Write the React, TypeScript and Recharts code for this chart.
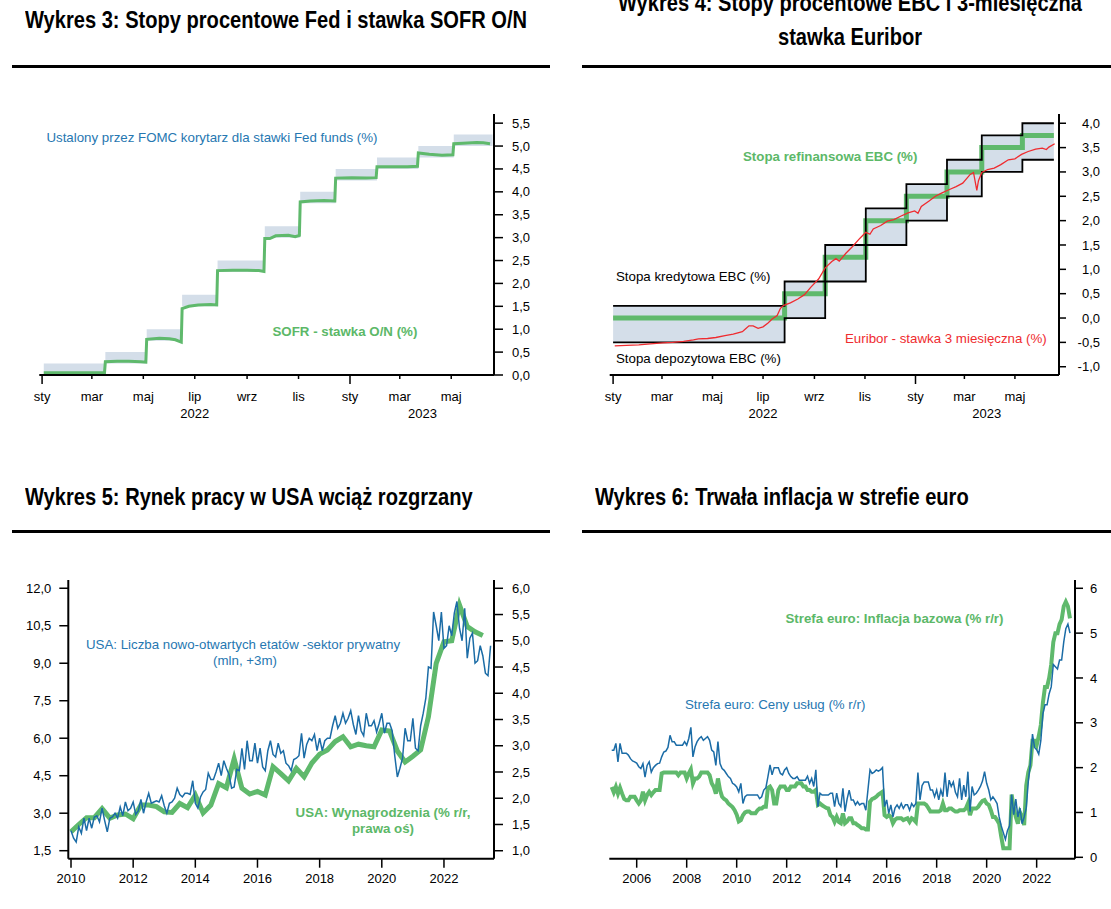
import React from "react";
import { ComposedChart, Line, Area, XAxis, YAxis } from "recharts";

const FONT = '"Liberation Sans", Arial, Helvetica, sans-serif';
const TITLE_FONT = '"Liberation Sans", Arial, Helvetica, sans-serif';

const GREEN = "#5fb96c";
const GREEN_TEXT = "#5cb868";
const BLUE = "#1b6ca6";
const BLUE_TEXT = "#2677b1";
const RED = "#ef2b2f";
const BAND = "#d4dee9";

// month axis shared by Wykres 3 and Wykres 4
const monthTickDates = ["2022-01-01", "2022-03-01", "2022-05-01", "2022-07-01", "2022-09-01", "2022-11-01", "2023-01-01", "2023-03-01", "2023-05-01"];
const monthTickLabels = ["sty", "mar", "maj", "lip", "wrz", "lis", "sty", "mar", "maj"];
const yearLabelDates = ["2022-07-01", "2023-03-28"];
const yearLabels = ["2022", "2023"];

// Wykres 3: Fed corridor and SOFR
const fedDates = ["2022-01-03", "2022-03-17", "2022-05-05", "2022-06-16", "2022-07-28", "2022-09-22", "2022-11-03", "2022-12-15", "2023-02-02", "2023-03-23", "2023-05-04", "2023-06-19"];
const fedLower = [0, 0.25, 0.75, 1.5, 2.25, 3.0, 3.75, 4.25, 4.5, 4.75, 5.0, 5.0];
const fedUpper = [0.25, 0.5, 1.0, 1.75, 2.5, 3.25, 4.0, 4.5, 4.75, 5.0, 5.25, 5.25];
const sofr: [string, number][] = [
  ["2022-01-03", 0.05], ["2022-02-01", 0.05], ["2022-03-01", 0.05], ["2022-03-16", 0.05],
  ["2022-03-17", 0.29], ["2022-03-31", 0.3], ["2022-04-14", 0.3], ["2022-04-28", 0.29], ["2022-05-04", 0.28],
  ["2022-05-05", 0.78], ["2022-05-20", 0.8], ["2022-06-01", 0.79], ["2022-06-08", 0.77], ["2022-06-15", 0.72],
  ["2022-06-16", 1.45], ["2022-06-24", 1.5], ["2022-07-05", 1.53], ["2022-07-20", 1.54], ["2022-07-27", 1.53],
  ["2022-07-28", 2.28], ["2022-08-15", 2.29], ["2022-09-01", 2.29], ["2022-09-15", 2.28], ["2022-09-21", 2.26],
  ["2022-09-22", 2.98], ["2022-09-28", 2.98], ["2022-10-05", 3.04], ["2022-10-20", 3.05], ["2022-10-28", 3.02], ["2022-11-02", 3.05],
  ["2022-11-03", 3.78], ["2022-11-15", 3.8], ["2022-12-01", 3.81], ["2022-12-14", 3.8],
  ["2022-12-15", 4.3], ["2023-01-03", 4.31], ["2023-01-20", 4.3], ["2023-02-01", 4.31],
  ["2023-02-02", 4.55], ["2023-02-20", 4.55], ["2023-03-10", 4.55], ["2023-03-22", 4.56],
  ["2023-03-23", 4.85], ["2023-04-05", 4.82], ["2023-04-20", 4.8], ["2023-05-03", 4.81],
  ["2023-05-04", 5.05], ["2023-05-15", 5.06], ["2023-05-31", 5.08], ["2023-06-08", 5.07], ["2023-06-16", 5.05],
];
const fedTicks = [0, 0.5, 1, 1.5, 2, 2.5, 3, 3.5, 4, 4.5, 5, 5.5];

// Wykres 4: ECB rates and 3M Euribor
const ecbDates = ["2022-01-01", "2022-07-27", "2022-09-14", "2022-11-02", "2022-12-21", "2023-02-08", "2023-03-22", "2023-05-10", "2023-06-17"];
const depositRate = [-0.5, 0, 0.75, 1.5, 2.0, 2.5, 3.0, 3.25, 3.25];
const refiRate = [0, 0.5, 1.25, 2.0, 2.5, 3.0, 3.5, 3.75, 3.75];
const lendingRate = [0.25, 0.75, 1.5, 2.25, 2.75, 3.25, 3.75, 4.0, 4.0];
const euribor: [string, number][] = [
  ["2022-01-03", -0.57], ["2022-01-17", -0.56], ["2022-02-01", -0.55], ["2022-02-15", -0.53], ["2022-03-02", -0.51],
  ["2022-03-14", -0.5], ["2022-03-27", -0.48], ["2022-04-08", -0.45], ["2022-04-14", -0.43], ["2022-04-25", -0.42],
  ["2022-05-05", -0.4], ["2022-05-16", -0.36], ["2022-05-26", -0.33], ["2022-06-06", -0.28], ["2022-06-10", -0.22],
  ["2022-06-14", -0.16], ["2022-06-19", -0.16], ["2022-06-25", -0.21], ["2022-07-01", -0.18], ["2022-07-07", -0.1],
  ["2022-07-12", -0.02], ["2022-07-18", 0.05], ["2022-07-22", 0.2], ["2022-07-26", 0.26], ["2022-08-03", 0.31],
  ["2022-08-12", 0.39], ["2022-08-20", 0.48], ["2022-08-28", 0.64], ["2022-09-06", 0.8], ["2022-09-14", 1.03],
  ["2022-09-22", 1.16], ["2022-09-27", 1.22], ["2022-10-01", 1.17], ["2022-10-09", 1.33], ["2022-10-17", 1.47],
  ["2022-10-26", 1.64], ["2022-11-02", 1.76], ["2022-11-07", 1.72], ["2022-11-11", 1.83], ["2022-11-20", 1.9],
  ["2022-11-28", 1.99], ["2022-12-06", 2.02], ["2022-12-14", 2.09], ["2022-12-23", 2.16], ["2022-12-31", 2.2],
  ["2023-01-04", 2.15], ["2023-01-08", 2.29], ["2023-01-17", 2.4], ["2023-01-25", 2.5], ["2023-02-02", 2.57],
  ["2023-02-11", 2.64], ["2023-02-19", 2.7], ["2023-02-27", 2.77], ["2023-03-08", 2.95], ["2023-03-12", 2.99],
  ["2023-03-16", 2.62], ["2023-03-18", 2.82], ["2023-03-22", 2.99], ["2023-03-29", 3.05], ["2023-04-06", 3.08],
  ["2023-04-14", 3.15], ["2023-04-23", 3.25], ["2023-05-01", 3.27], ["2023-05-09", 3.36], ["2023-05-17", 3.42],
  ["2023-05-26", 3.47], ["2023-06-03", 3.49], ["2023-06-08", 3.46], ["2023-06-11", 3.51], ["2023-06-18", 3.58],
];
const ecbTicks = [-1, -0.5, 0, 0.5, 1, 1.5, 2, 2.5, 3, 3.5, 4];

// Wykres 5: US job openings (monthly from Jan 2010, mln, +3m) and wages (quarterly from 2010Q1)
const jobOpenings = [
  2.3, 2.0, 1.85, 2.45, 2.2, 2.8, 2.3, 2.8, 2.4, 2.85, 2.9, 2.65,
  3.2, 2.7, 2.25, 2.8, 2.85, 3.0, 2.8, 3.25, 2.9, 3.45, 3.1, 3.2,
  3.45, 2.95, 3.1, 3.55, 3.0, 3.45, 3.8, 3.4, 3.45, 3.5, 3.45, 3.7,
  3.3, 3.0, 3.4, 3.45, 3.6, 4.0, 3.75, 3.65, 3.8, 3.8, 3.75, 4.3,
  3.4, 3.2, 3.65, 3.85, 3.95, 4.6, 4.35, 4.35, 4.65, 5.0, 4.5, 5.1,
  4.8, 4.55, 4.0, 4.05, 4.75, 4.7, 5.6, 4.75, 5.9, 5.1, 5.1, 5.8,
  5.0, 5.6, 4.85, 4.7, 5.5, 5.9, 5.35, 5.25, 5.8, 5.4, 5.5, 5.0,
  4.9, 4.7, 5.15, 5.2, 5.3, 6.2, 5.2, 5.75, 6.0, 5.9, 6.15, 5.5,
  6.0, 5.5, 5.9, 6.0, 6.0, 6.5, 6.9, 6.4, 6.6, 7.0, 6.6, 6.8,
  7.1, 6.55, 6.15, 6.9, 6.3, 6.1, 7.0, 6.5, 6.5, 6.7, 6.25, 6.6,
  7.0, 6.2, 6.6, 6.6, 6.3, 5.3, 4.45, 4.8, 5.2, 6.4, 5.9, 5.9,
  6.8, 5.6, 5.5, 6.5, 7.0, 7.6, 8.85, 8.8, 11.05, 10.5, 9.9, 11.05,
  9.6, 9.7, 10.5, 10.1, 11.0, 11.47, 10.4, 9.9, 11.2, 9.2, 10.0, 10.2,
  9.0, 9.1, 9.7, 9.3, 8.6, 8.5, 9.7,
];
const wages = [
  1.36, 1.5, 1.63, 1.63, 1.8, 1.62, 1.68, 1.7, 1.61, 1.87, 1.87, 1.84,
  1.74, 1.73, 1.9, 1.82, 2.06, 1.72, 1.87, 2.28, 2.2, 2.75, 2.19, 2.08,
  2.13, 2.06, 2.6, 2.47, 2.33, 2.57, 2.41, 2.67, 2.84, 2.92, 3.08, 3.17,
  2.98, 3.03, 3.0, 2.98, 3.3, 3.28, 2.9, 2.69, 2.8, 2.92, 3.55, 4.57,
  4.98, 5.0, 5.68, 5.27, 5.17, 5.1,
];
const jobsTicks = [1.5, 3, 4.5, 6, 7.5, 9, 10.5, 12];
const wagesTicks = [1, 1.5, 2, 2.5, 3, 3.5, 4, 4.5, 5, 5.5, 6];
const usYearTicks = [2010, 2012, 2014, 2016, 2018, 2020, 2022];

// Wykres 6: euro area services and core inflation (monthly from Jan 2005, % y/y)
const servicesInflation = [
  2.39, 2.39, 2.54, 2.13, 2.54, 2.32, 2.32, 2.32, 2.28, 2.2, 2.15, 2.13,
  2.1, 2.02, 1.98, 2.09, 1.79, 2.05, 2.13, 1.9, 2.0, 2.05, 2.09, 2.1,
  2.24, 2.35, 2.37, 2.45, 2.72, 2.58, 2.58, 2.5, 2.5, 2.5, 2.5, 2.58,
  2.5, 2.65, 2.9, 2.24, 2.46, 2.58, 2.65, 2.69, 2.61, 2.65, 2.69, 2.61,
  2.39, 2.35, 2.05, 2.58, 2.09, 1.98, 1.94, 1.87, 1.8, 1.76, 1.65, 1.62,
  1.57, 1.46, 1.65, 1.2, 1.35, 1.39, 1.39, 1.39, 1.39, 1.39, 1.39, 1.31,
  1.35, 1.5, 1.55, 1.8, 2.06, 1.84, 2.0, 2.0, 2.0, 1.87, 1.84, 1.95,
  2.0, 1.87, 1.8, 1.76, 1.76, 1.8, 1.72, 1.72, 1.72, 1.72, 1.81, 1.65,
  1.76, 1.58, 1.95, 1.13, 1.43, 1.39, 1.39, 1.39, 1.39, 1.43, 1.43, 1.13,
  1.43, 1.2, 1.13, 1.54, 1.02, 1.3, 1.5, 1.28, 1.28, 1.17, 1.24, 1.17,
  1.2, 1.2, 1.05, 1.5, 1.95, 1.87, 1.9, 1.95, 1.92, 1.95, 2.0, 1.13,
  1.28, 0.98, 1.17, 0.9, 1.1, 1.17, 1.09, 1.2, 1.09, 1.17, 1.17, 1.05,
  1.2, 1.13, 1.2, 1.89, 1.28, 1.6, 1.68, 1.68, 1.68, 1.5, 1.5, 1.35,
  1.5, 1.28, 1.5, 1.35, 1.89, 1.35, 1.72, 1.58, 1.68, 1.45, 1.35, 1.76,
  1.28, 1.61, 1.35, 1.91, 1.02, 1.58, 1.39, 1.43, 1.5, 1.58, 1.7, 1.91,
  1.65, 1.5, 1.28, 1.35, 1.28, 1.2, 0.9, 0.7, 0.55, 0.4, 0.6, 0.7,
  1.4, 0.95, 1.3, 0.9, 1.1, 0.75, 0.9, 1.1, 1.7, 2.1, 2.75, 2.45,
  2.4, 2.3, 2.6, 3.2, 3.4, 3.4, 3.65, 3.8, 4.3, 4.25, 4.2, 4.4,
  4.4, 4.8, 5.1, 5.2, 5.0,
];
const coreInflation = [
  1.57, 1.45, 1.57, 1.42, 1.55, 1.42, 1.3, 1.27, 1.27, 1.35, 1.35, 1.35,
  1.27, 1.2, 1.27, 1.46, 1.27, 1.39, 1.46, 1.39, 1.45, 1.5, 1.5, 1.5,
  1.87, 1.89, 1.89, 1.89, 1.89, 1.89, 1.89, 1.89, 1.83, 1.89, 1.89, 1.89,
  1.76, 1.87, 1.96, 1.65, 1.76, 1.76, 1.8, 1.89, 1.89, 1.89, 1.89, 1.83,
  1.65, 1.57, 1.42, 1.76, 1.5, 1.35, 1.3, 1.27, 1.2, 1.16, 1.12, 1.05,
  0.95, 0.8, 0.83, 0.94, 1.0, 1.02, 1.02, 0.98, 0.98, 0.98, 1.05, 1.09,
  1.09, 1.13, 1.13, 1.55, 1.58, 1.5, 1.2, 1.2, 1.5, 1.58, 1.58, 1.58,
  1.5, 1.5, 1.58, 1.58, 1.58, 1.65, 1.65, 1.65, 1.58, 1.58, 1.5, 1.5,
  1.46, 1.46, 1.5, 1.17, 1.2, 1.16, 1.13, 1.1, 1.09, 0.94, 0.9, 0.79,
  0.9, 0.79, 0.76, 0.98, 0.76, 0.8, 0.87, 0.87, 0.76, 0.76, 0.72, 0.69,
  0.65, 0.65, 0.62, 0.62, 1.24, 1.3, 1.32, 1.35, 1.4, 1.43, 1.46, 0.94,
  0.9, 0.94, 0.9, 0.76, 0.84, 0.87, 0.87, 0.87, 0.83, 0.85, 0.87, 0.79,
  0.87, 0.84, 0.79, 1.2, 1.2, 1.2, 1.2, 1.17, 1.1, 1.02, 1.02, 1.02,
  1.02, 1.02, 1.05, 1.2, 1.05, 1.05, 1.09, 1.09, 1.05, 1.02, 1.02, 1.05,
  1.05, 1.05, 1.09, 1.2, 0.94, 1.09, 1.09, 1.09, 1.13, 1.2, 1.26, 1.28,
  1.2, 1.17, 1.05, 0.9, 0.9, 0.83, 0.75, 0.46, 0.2, 0.2, 0.2, 0.2,
  1.4, 1.1, 0.9, 0.75, 1.0, 0.9, 0.72, 1.6, 1.9, 2.05, 2.6, 2.6,
  2.5, 2.7, 2.95, 3.45, 3.8, 3.8, 4.0, 4.3, 4.8, 5.0, 5.0, 5.2,
  5.3, 5.6, 5.7, 5.6, 5.33,
];
const euroTicks = [0, 1, 2, 3, 4, 5, 6];
const euroYearTicks = [2006, 2008, 2010, 2012, 2014, 2016, 2018, 2020, 2022];

// ---- helpers
const BASE = Date.UTC(2022, 0, 1);
const day = (s: string) => {
  const [y, m, d] = s.split("-").map(Number);
  return (Date.UTC(y, m - 1, d) - BASE) / 86400000;
};
const comma = (v: number) => v.toFixed(1).replace(".", ",");

const monthTickDays = monthTickDates.map(day);
const yearLabelDays = yearLabelDates.map(day);
const dayTicks = Array.from(new Set([...monthTickDays, ...yearLabelDays])).sort((a, b) => a - b);

const fedData = fedDates.map((d, i) => ({ x: day(d), band: [fedLower[i], fedUpper[i]] }));
const sofrData = sofr.map(([d, v]) => ({ x: day(d), v }));
const ecbData = ecbDates.map((d, i) => ({
  x: day(d),
  band: [depositRate[i], lendingRate[i]],
  dep: depositRate[i],
  refi: refiRate[i],
  lend: lendingRate[i],
}));
const euriborData = euribor.map(([d, v]) => ({ x: day(d), v }));
const jobsData = jobOpenings.map((v, i) => ({ x: 2010 + i / 12, v }));
const wagesData = wages.map((v, i) => ({ x: 2010 + i / 4, v }));
const servicesData = servicesInflation.map((v, i) => ({ x: 2005 + i / 12, v }));
const coreData = coreInflation.map((v, i) => ({ x: 2005 + i / 12, v }));

const AXIS = { stroke: "#000", strokeWidth: 2 };
const TICKLINE = { stroke: "#000", strokeWidth: 1.5 };
const textStyle = { fontFamily: FONT, fontSize: 13, fill: "#000" };

const MonthTick = (props: any) => {
  const { x, y, payload } = props;
  const v = payload.value;
  const mi = monthTickDays.indexOf(v);
  const yi = yearLabelDays.indexOf(v);
  return (
    <g>
      {mi >= 0 && (
        <line x1={x} x2={x} y1={y} y2={y + (monthTickLabels[mi] === "sty" ? 9 : 4)} stroke="#000" strokeWidth={1.5} />
      )}
      {mi >= 0 && (
        <text x={x} y={y + 21} dy="0.35em" textAnchor="middle" {...textStyle}>
          {monthTickLabels[mi]}
        </text>
      )}
      {yi >= 0 && (
        <text x={x} y={y + 38} dy="0.35em" textAnchor="middle" {...textStyle}>
          {yearLabels[yi]}
        </text>
      )}
    </g>
  );
};

const YearTick = (props: any) => {
  const { x, y, payload } = props;
  return (
    <g>
      <line x1={x} x2={x} y1={y} y2={y + 9} stroke="#000" strokeWidth={1.5} />
      <text x={x} y={y + 20} dy="0.35em" textAnchor="middle" {...textStyle}>
        {payload.value}
      </text>
    </g>
  );
};

const yTick = (fmt: (v: number) => string, anchor: "start" | "end", dx = 0) => (props: any) => (
  <text x={props.x + dx} y={props.y} dy="0.35em" textAnchor={anchor} {...textStyle}>
    {fmt(props.payload.value)}
  </text>
);

type Plot = { x0: number; x1: number; y0: number; y1: number };
const marginFor = (left: number, top: number, width: number, height: number, p: Plot, lw: number, rw: number, bh: number) => ({
  left: p.x0 - left - lw,
  right: left + width - p.x1 - rw,
  top: p.y0 - top,
  bottom: top + height - p.y1 - bh,
});

const abs = (left: number, top: number): React.CSSProperties => ({ position: "absolute", left, top });

const Note = ({ x, y, color, bold, center, children }: any) => (
  <div
    style={{
      position: "absolute",
      left: x,
      top: y - 9,
      height: 18,
      lineHeight: "18px",
      whiteSpace: "nowrap",
      transform: center ? "translateX(-50%)" : undefined,
      fontFamily: FONT,
      fontSize: 13.3,
      fontWeight: bold ? "bold" : "normal",
      color,
    }}
  >
    {children}
  </div>
);

// titles are set in Arial bold squeezed to the width of Arial Narrow
const Title = ({ x, y, center, children }: any) => (
  <div
    style={{
      position: "absolute",
      left: x,
      top: y - 16,
      height: 32,
      lineHeight: "32px",
      whiteSpace: "nowrap",
      transform: center ? "translateX(-50%) scaleX(0.82)" : "scaleX(0.82)",
      transformOrigin: center ? "50% 50%" : "0 50%",
      fontFamily: TITLE_FONT,
      fontSize: 24.5,
      fontWeight: "bold",
      color: "#000",
    }}
  >
    {children}
  </div>
);

const Rule = ({ x, y, w }: any) => (
  <div style={{ position: "absolute", left: x, top: y, width: w, height: 3, background: "#000" }} />
);

const FedChart = () => {
  const p = { x0: 39.3, x1: 494, y0: 114, y1: 375 };
  return (
    <div style={abs(0, 100)}>
      <ComposedChart width={560} height={330} margin={marginFor(0, 100, 560, 330, p, 0, 60, 50)}>
        <XAxis type="number" dataKey="x" domain={[-3.3, 535.7]} allowDataOverflow ticks={dayTicks} interval={0}
          tickLine={false} tickSize={0} tickMargin={0} axisLine={AXIS} height={50} tick={MonthTick} />
        <YAxis type="number" orientation="right" domain={[0, 5.7]} allowDataOverflow ticks={fedTicks} interval={0}
          tickSize={9} tickMargin={9} tickLine={TICKLINE} axisLine={AXIS} width={60} tick={yTick(comma, "start")} />
        <Area data={fedData} dataKey="band" type="stepAfter" fill={BAND} fillOpacity={1} stroke="none" isAnimationActive={false} />
        <Line data={sofrData} dataKey="v" type="linear" stroke={GREEN} strokeWidth={3} dot={false} isAnimationActive={false} />
      </ComposedChart>
    </div>
  );
};

const EcbChart = () => {
  const p = { x0: 609.7, x1: 1059, y0: 114, y1: 375 };
  return (
    <div style={abs(570, 100)}>
      <ComposedChart width={541} height={330} margin={marginFor(570, 100, 541, 330, p, 0, 50, 50)}>
        <XAxis type="number" dataKey="x" domain={[-4.1, 538.2]} allowDataOverflow ticks={dayTicks} interval={0}
          tickLine={false} tickSize={0} tickMargin={0} axisLine={AXIS} height={50} tick={MonthTick} />
        <YAxis type="number" orientation="right" domain={[-1.17, 4.19]} allowDataOverflow ticks={ecbTicks} interval={0}
          tickSize={7} tickMargin={10} tickLine={TICKLINE} axisLine={AXIS} width={50} tick={yTick(comma, "end", 24)} />
        <Area data={ecbData} dataKey="band" type="stepAfter" fill={BAND} fillOpacity={1} stroke="none" isAnimationActive={false} />
        <Line data={ecbData} dataKey="refi" type="stepAfter" stroke={GREEN} strokeWidth={5} dot={false} isAnimationActive={false} />
        <Line data={ecbData} dataKey="dep" type="stepAfter" stroke="#000" strokeWidth={1.8} dot={false} isAnimationActive={false} />
        <Line data={ecbData} dataKey="lend" type="stepAfter" stroke="#000" strokeWidth={1.8} dot={false} isAnimationActive={false} />
        <Line data={euriborData} dataKey="v" type="linear" stroke={RED} strokeWidth={1.3} dot={false} isAnimationActive={false} />
      </ComposedChart>
    </div>
  );
};

const JobsChart = () => {
  const p = { x0: 68.3, x1: 494, y0: 580, y1: 858.7 };
  return (
    <div style={abs(0, 570)}>
      <ComposedChart width={560} height={330} margin={marginFor(0, 570, 560, 330, p, 60, 60, 40)}>
        <XAxis type="number" dataKey="x" domain={[2009.913, 2023.61]} allowDataOverflow ticks={usYearTicks} interval={0}
          tickLine={false} tickSize={0} tickMargin={0} axisLine={AXIS} height={40} tick={YearTick} />
        <YAxis yAxisId="left" type="number" orientation="left" domain={[1.18, 12.33]} allowDataOverflow ticks={jobsTicks} interval={0}
          tickSize={9} tickMargin={8} tickLine={TICKLINE} axisLine={AXIS} width={60} tick={yTick(comma, "end")} />
        <YAxis yAxisId="right" type="number" orientation="right" domain={[0.848, 6.158]} allowDataOverflow ticks={wagesTicks} interval={0}
          tickSize={9} tickMargin={9} tickLine={TICKLINE} axisLine={AXIS} width={60} tick={yTick(comma, "start")} />
        <Line yAxisId="right" data={wagesData} dataKey="v" type="linear" stroke={GREEN} strokeWidth={5} dot={false} isAnimationActive={false} />
        <Line yAxisId="left" data={jobsData} dataKey="v" type="linear" stroke={BLUE} strokeWidth={1.5} dot={false} isAnimationActive={false} />
      </ComposedChart>
    </div>
  );
};

const EuroChart = () => {
  const p = { x0: 609.3, x1: 1075, y0: 580, y1: 858.7 };
  return (
    <div style={abs(570, 570)}>
      <ComposedChart width={541} height={330} margin={marginFor(570, 570, 541, 330, p, 0, 30, 40)}>
        <XAxis type="number" dataKey="x" domain={[2004.904, 2023.534]} allowDataOverflow ticks={euroYearTicks} interval={0}
          tickLine={false} tickSize={0} tickMargin={0} axisLine={AXIS} height={40} tick={YearTick} />
        <YAxis type="number" orientation="right" domain={[-0.031, 6.185]} allowDataOverflow ticks={euroTicks} interval={0}
          tickSize={8} tickMargin={7} tickLine={TICKLINE} axisLine={AXIS} width={30} tick={yTick((v) => String(v), "start")} />
        <Line data={coreData} dataKey="v" type="linear" stroke={GREEN} strokeWidth={4} dot={false} isAnimationActive={false} />
        <Line data={servicesData} dataKey="v" type="linear" stroke={BLUE} strokeWidth={1.5} dot={false} isAnimationActive={false} />
      </ComposedChart>
    </div>
  );
};

export default function App() {
  return (
    <div style={{ position: "absolute", left: 0, top: 0, width: 1111, height: 909, overflow: "hidden", background: "#fff" }}>
      <Title x={25} y={20}>Wykres 3: Stopy procentowe Fed i stawka SOFR O/N</Title>
      <Title x={850} y={3} center>Wykres 4: Stopy procentowe EBC i 3-miesięczna</Title>
      <Title x={850} y={37} center>stawka Euribor</Title>
      <Title x={25} y={497}>Wykres 5: Rynek pracy w USA wciąż rozgrzany</Title>
      <Title x={595} y={497}>Wykres 6: Trwała inflacja w strefie euro</Title>
      <Rule x={12} y={65} w={538} />
      <Rule x={582} y={65} w={529} />
      <Rule x={12} y={530} w={538} />
      <Rule x={582} y={530} w={529} />

      <FedChart />
      <EcbChart />
      <JobsChart />
      <EuroChart />

      <Note x={46.4} y={138} color={BLUE_TEXT}>Ustalony przez FOMC korytarz dla stawki Fed funds (%)</Note>
      <Note x={272.5} y={332} color={GREEN_TEXT} bold>SOFR - stawka O/N (%)</Note>

      <Note x={743} y={157} color={GREEN_TEXT} bold>Stopa refinansowa EBC (%)</Note>
      <Note x={616} y={277} color="#000">Stopa kredytowa EBC (%)</Note>
      <Note x={616} y={359} color="#000">Stopa depozytowa EBC (%)</Note>
      <Note x={845} y={339} color={RED}>Euribor - stawka 3 miesięczna (%)</Note>

      <Note x={243} y={645} color={BLUE_TEXT} center>USA: Liczba nowo-otwartych etatów -sektor prywatny</Note>
      <Note x={245} y={661} color={BLUE_TEXT} center>(mln, +3m)</Note>
      <Note x={383} y={813} color={GREEN_TEXT} bold center>USA: Wynagrodzenia (% r/r,</Note>
      <Note x={383} y={829} color={GREEN_TEXT} bold center>prawa oś)</Note>

      <Note x={785.5} y={619} color={GREEN_TEXT} bold>Strefa euro: Inflacja bazowa (% r/r)</Note>
      <Note x={685} y={705} color={BLUE_TEXT}>Strefa euro: Ceny usług (% r/r)</Note>
    </div>
  );
}
